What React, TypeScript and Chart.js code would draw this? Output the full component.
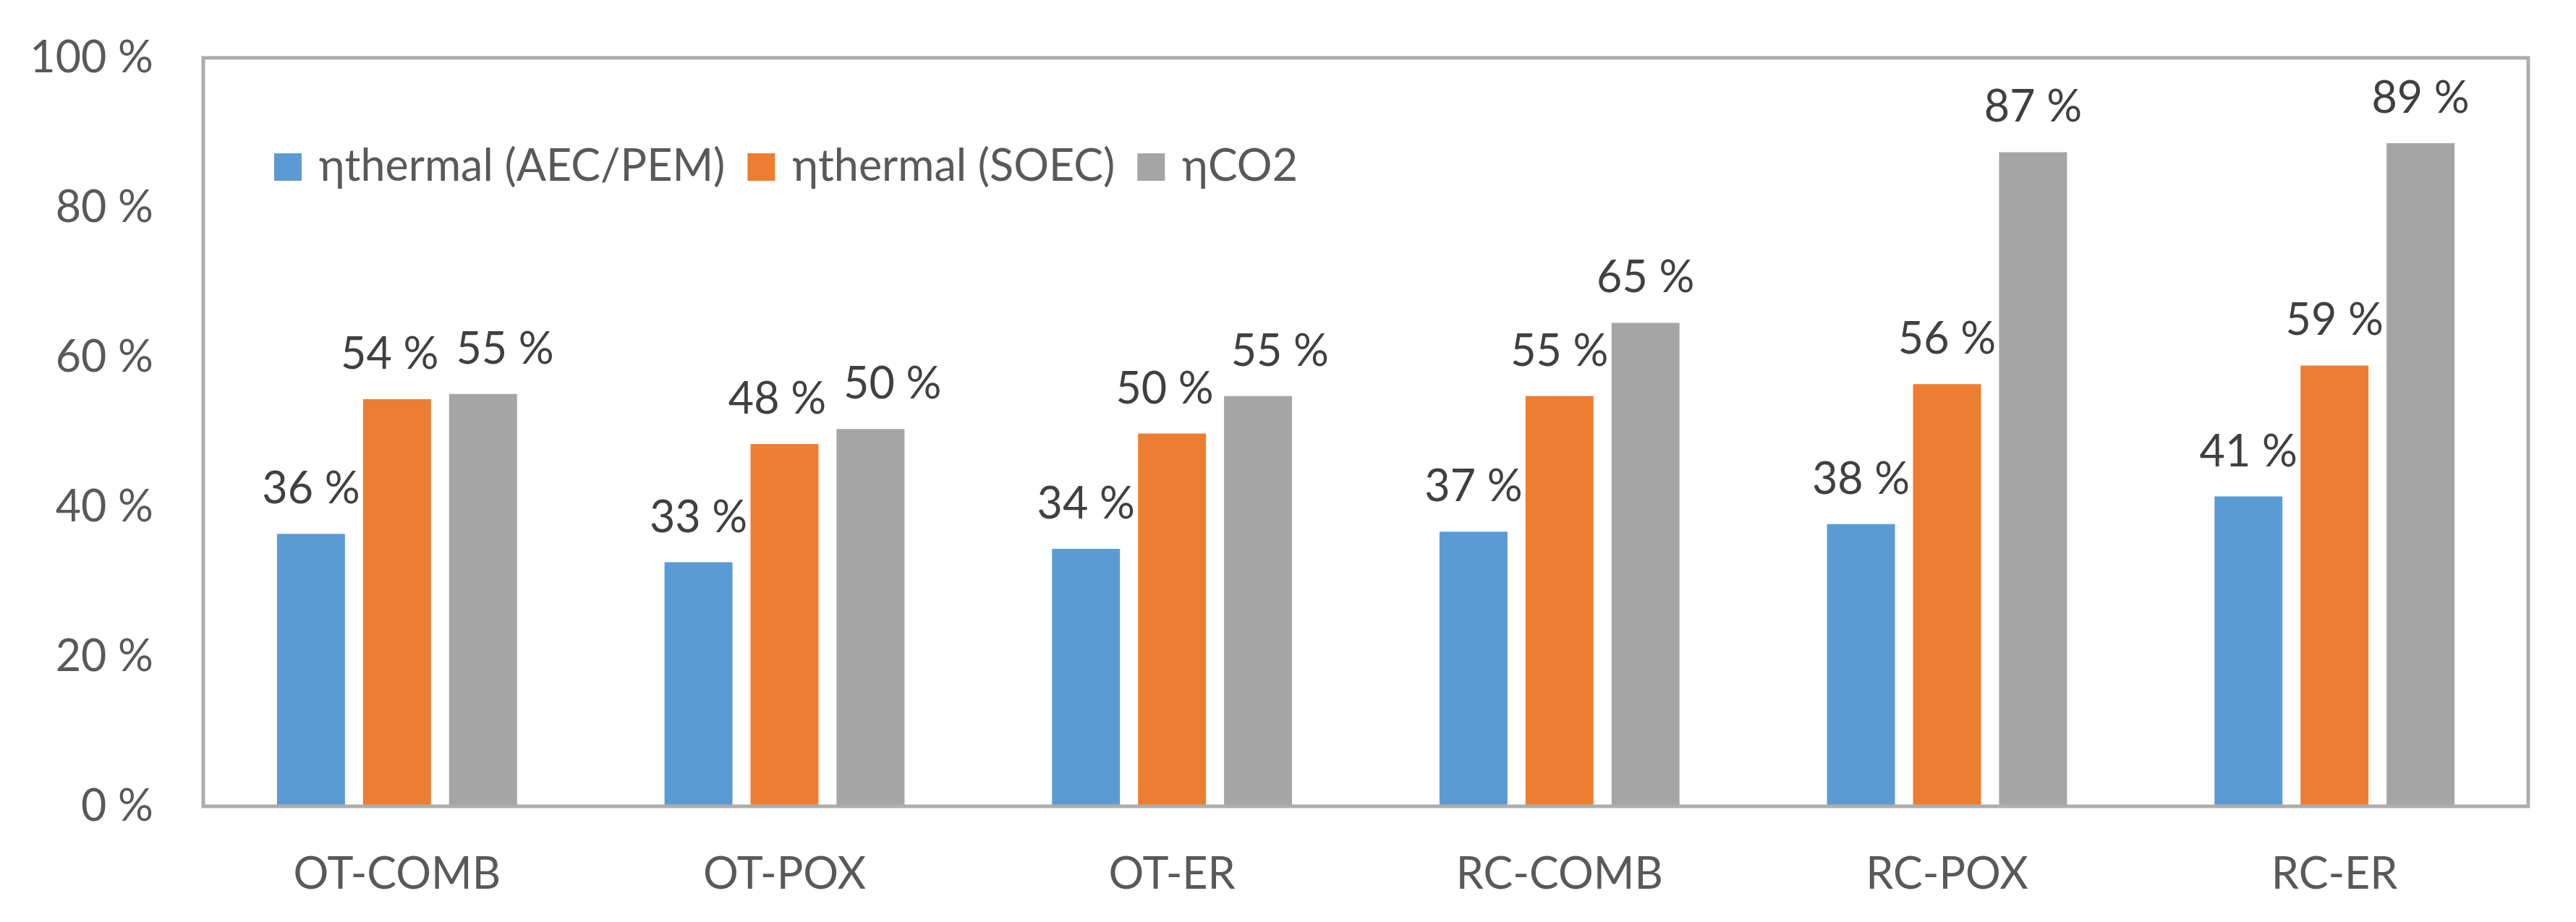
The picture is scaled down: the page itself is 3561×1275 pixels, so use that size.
import { useEffect, useRef } from 'react'
import { Chart, registerables } from 'chart.js'

Chart.register(...registerables)

const categories = ['OT-COMB', 'OT-POX', 'OT-ER', 'RC-COMB', 'RC-POX', 'RC-ER']
const seriesNames = ['ηthermal (AEC/PEM)', 'ηthermal (SOEC)', 'ηCO2']
const thermalAecPem = [36.4, 32.6, 34.4, 36.7, 37.7, 41.4]
const thermalSoec = [54.4, 48.4, 49.8, 54.8, 56.4, 58.9]
const co2 = [55.1, 50.4, 54.8, 64.6, 87.4, 88.6]
const yTicks = [0, 20, 40, 60, 80, 100]

const colors = ['#5B9BD5', '#ED7D31', '#A5A5A5']
const FONT = 'Lato'
const FONT_SIZE = 61
const TEXT = '#595959'

// plot area frame, drawn over the bars like Excel does
const framePlugin = {
  id: 'frame',
  afterDatasetsDraw(chart: Chart) {
    const { ctx, chartArea } = chart
    ctx.save()
    ctx.strokeStyle = '#ADADAD'
    ctx.lineWidth = 5
    ctx.strokeRect(chartArea.left, chartArea.top, chartArea.right - chartArea.left, chartArea.bottom - chartArea.top)
    ctx.restore()
  },
}

// value labels above bars; neighbours that would collide get pushed apart
const valueLabels = {
  id: 'valueLabels',
  afterDatasetsDraw(chart: Chart) {
    const { ctx } = chart
    ctx.save()
    ctx.font = `${FONT_SIZE}px ${FONT}`
    ctx.fillStyle = '#404040'
    ctx.textAlign = 'center'
    ctx.textBaseline = 'alphabetic'
    const n = chart.data.datasets.length
    categories.forEach((_, j) => {
      const items = []
      for (let i = 0; i < n; i++) {
        const bar = chart.getDatasetMeta(i).data[j]
        const text = `${Math.round(chart.data.datasets[i].data[j] as number)} %`
        items.push({ text, x: bar.x, y: bar.y - 42, w: ctx.measureText(text).width })
      }
      for (let k = 1; k < items.length; k++) {
        const a = items[k - 1]
        const b = items[k]
        if (Math.abs(a.y - b.y) >= 64) continue
        const d = (a.w + b.w) / 2 + 24 - (b.x - a.x)
        if (d > 0) {
          a.x -= d * 0.25
          b.x += d * 0.75
        }
      }
      items.forEach((it) => ctx.fillText(it.text, it.x, it.y))
    })
    ctx.restore()
  },
}

const insideLegend = {
  id: 'insideLegend',
  afterDraw(chart: Chart) {
    const { ctx, chartArea } = chart
    ctx.save()
    ctx.font = `${FONT_SIZE}px ${FONT}`
    ctx.textAlign = 'left'
    ctx.textBaseline = 'alphabetic'
    let x = chartArea.left + 98
    const baseline = chartArea.top + 170
    chart.data.datasets.forEach((ds) => {
      const label = ds.label ?? ''
      ctx.fillStyle = ds.backgroundColor as string
      ctx.fillRect(x, baseline - 38, 38, 38)
      ctx.fillStyle = TEXT
      ctx.fillText(label, x + 62, baseline)
      x += 62 + ctx.measureText(label).width + 31
    })
    ctx.restore()
  },
}

export default function App() {
  const canvasRef = useRef<HTMLCanvasElement>(null)
  const chartRef = useRef<Chart | null>(null)

  useEffect(() => {
    document.body.style.margin = '0'
    if (!canvasRef.current) return

    chartRef.current?.destroy()

    const series = [thermalAecPem, thermalSoec, co2]

    chartRef.current = new Chart(canvasRef.current, {
      type: 'bar',
      data: {
        labels: categories,
        datasets: series.map((data, i) => ({
          label: seriesNames[i],
          data,
          backgroundColor: colors[i],
          borderWidth: 0,
          categoryPercentage: 0.666,
          barPercentage: 0.79,
        })),
      },
      options: {
        responsive: true,
        maintainAspectRatio: false,
        devicePixelRatio: 1,
        animation: false,
        layout: { padding: { top: 80, right: 66, left: 0, bottom: 0 } },
        plugins: {
          legend: { display: false },
          tooltip: { enabled: false },
        },
        scales: {
          x: {
            grid: { display: false, drawTicks: false },
            border: { display: false },
            ticks: {
              color: TEXT,
              padding: 58,
              font: { family: FONT, size: FONT_SIZE },
            },
            afterFit(scale) {
              scale.height = 160
              scale.paddingLeft = 0
              scale.paddingRight = 0
            },
          },
          y: {
            min: 0,
            max: 100,
            grid: { display: false, drawTicks: false },
            border: { display: false },
            afterBuildTicks(scale) {
              scale.ticks = yTicks.map((value) => ({ value }))
            },
            ticks: {
              color: TEXT,
              padding: 69,
              font: { family: FONT, size: FONT_SIZE },
              callback: (v) => `${v} %`,
            },
            afterFit(scale) {
              scale.width = 281
              scale.paddingTop = 0
              scale.paddingBottom = 0
            },
          },
        },
      },
      plugins: [framePlugin, valueLabels, insideLegend],
    })

    return () => {
      chartRef.current?.destroy()
    }
  }, [])

  return (
    <div style={{ width: 3561, height: 1275, background: '#fff' }}>
      <canvas ref={canvasRef} />
    </div>
  )
}
